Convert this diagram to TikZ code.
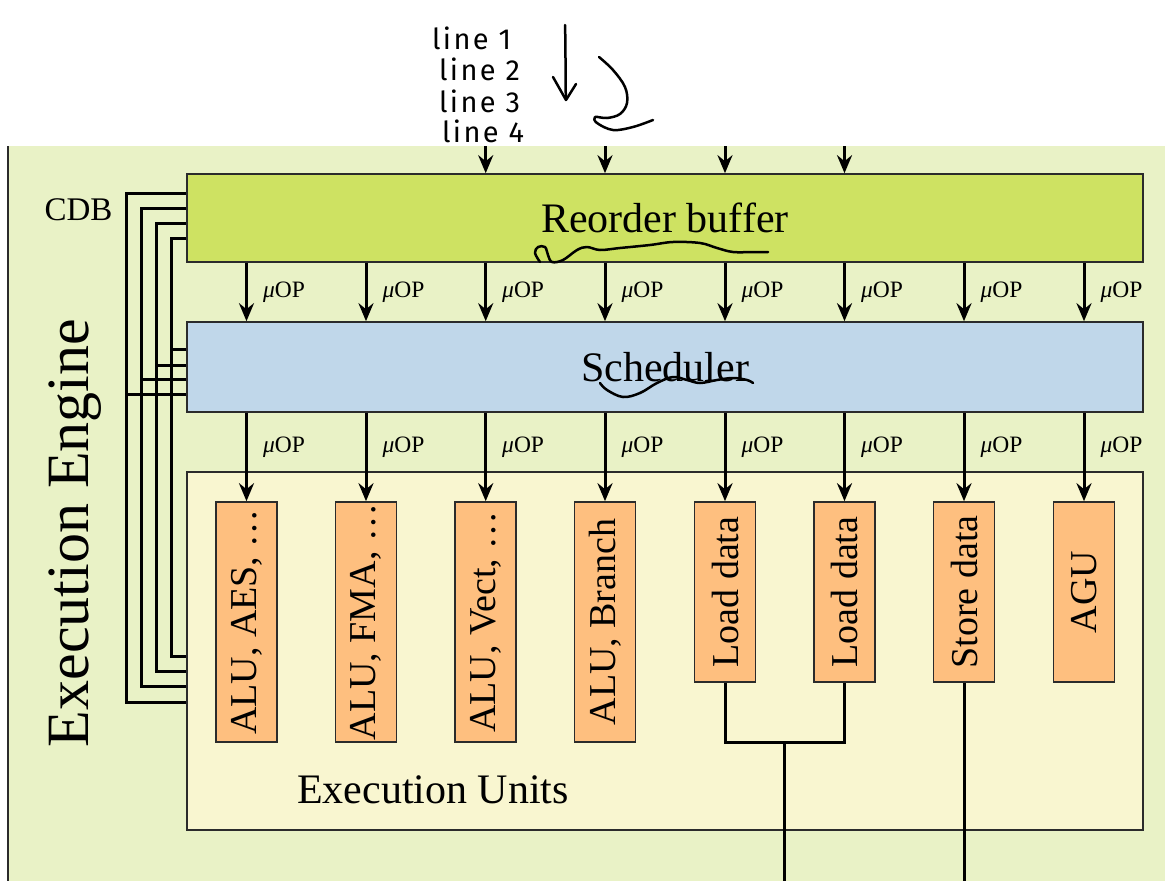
\documentclass[tikz,border=0pt]{standalone}
\usepackage{fontspec}
\usepackage{graphicx}
\setmainfont{Liberation Serif}
\newfontfamily\handfont[LetterSpace=8]{Fira Sans}
\usetikzlibrary{arrows.meta,calc}

\definecolor{enginebg}{HTML}{E9F2C6}
\definecolor{robfill}{HTML}{CEE262}
\definecolor{schedfill}{HTML}{C0D7EA}
\definecolor{eufill}{HTML}{F9F6D0}
\definecolor{unitfill}{HTML}{FEBF7F}
\definecolor{edge}{HTML}{2B2B2B}

\begin{document}
\begin{tikzpicture}[x=1pt,y=-1pt,
  blk/.style={draw=edge, line width=1.6pt, inner sep=0pt, rectangle},
  bigtext/.style={font=\fontsize{42}{42}\selectfont},
  unitbox/.style={blk, fill=unitfill, minimum width=61pt,
    font=\fontsize{38}{38}\selectfont},
  arr/.style={line width=3pt, -{Stealth[length=18pt,width=15pt,inset=6pt]}},
  wire/.style={line width=3pt},
  bus/.style={line width=2.8pt, line join=miter},
  uop/.style={font=\fontsize{23.5}{23.5}\selectfont, anchor=west, inner sep=0pt, xshift=15pt},
  hand/.style={line width=2.5pt, line cap=round, line join=round},
  handtext/.style={font=\handfont\fontsize{29}{29}\selectfont, anchor=base west, inner sep=0pt}
]
\useasboundingbox (0,0) rectangle (1165,881);

% engine background, open at the top and right
\fill[enginebg] (8,146) rectangle (1165,881);
\draw[edge, line width=1.6pt] (8,146) -- (8,881);

% main blocks
\node[blk, bigtext, fill=robfill, minimum width=956pt, minimum height=88pt] (rob) at (665,218) {Reorder buffer};
\node[blk, bigtext, fill=schedfill, minimum width=956pt, minimum height=90pt] (sched) at (665,367) {Scheduler};
\node[blk, fill=eufill, minimum width=956pt, minimum height=358pt] (eu) at (665,651) {};
\node[bigtext, inner sep=0pt] (eulbl) at (433,790) {Execution Units};

% execution units
\node[unitbox, minimum height=240pt] (u1) at (246.5,622) {\rotatebox{90}{ALU, AES, \ldots}};
\node[unitbox, minimum height=240pt] (u2) at (366,622) {\rotatebox{90}{ALU, FMA, \ldots}};
\node[unitbox, minimum height=240pt] (u3) at (485.7,622) {\rotatebox{90}{ALU, Vect, \ldots}};
\node[unitbox, minimum height=240pt] (u4) at (605,622) {\rotatebox{90}{ALU, Branch}};
\node[unitbox, minimum height=180pt] (u5) at (725,592) {\rotatebox{90}{Load data}};
\node[unitbox, minimum height=180pt] (u6) at (844.5,592) {\rotatebox{90}{Load data}};
\node[unitbox, minimum height=180pt] (u7) at (964,592) {\rotatebox{90}{Store data}};
\node[unitbox, minimum height=180pt] (u8) at (1084,592) {\rotatebox{90}{AGU}};

% side labels
\node[font=\fontsize{60}{60}\selectfont, rotate=90, inner sep=0pt] (engine) at (75,533) {Execution Engine};
\node[font=\fontsize{33}{33}\selectfont, inner sep=0pt] (cdb) at (78.5,210) {CDB};

% incoming instructions
\coordinate (top) at (0,146);
\foreach \u in {u3,u4,u5,u6}
  \draw[arr] (\u |- top) -- (\u |- rob.north);

% reorder buffer -> scheduler
\foreach \u in {u1,u2,u3,u4,u5,u6,u7,u8}
  \draw[arr] (\u |- rob.south) -- (\u |- sched.north)
    node[uop, midway] {{\itshape μ}OP};

% scheduler -> execution units
\foreach \u in {u1,u2,u3,u4,u5,u6,u7,u8}
  \draw[arr] (\u |- sched.south) -- (\u.north)
    node[uop, pos=0.39] {{\itshape μ}OP};

% results leaving the units
\coordinate (bottom) at (0,881);
\coordinate (ldjoin) at ($(u5.south)!0.5!(u6.south)+(0,60)$);
\draw[wire] (u5.south) |- (ldjoin) -| (u6.south);
\draw[wire] (ldjoin) -- (ldjoin |- bottom);
\draw[wire] (u7.south) -- (u7.south |- bottom);

% common data bus: four lines feeding back to the blocks
\draw[bus] ([yshift=-20pt]rob.north west) -- ++(-60,0) |- ([yshift=-231pt]eu.north west);
\draw[bus] ([yshift=-35pt]rob.north west) -- ++(-45,0) |- ([yshift=-215pt]eu.north west);
\draw[bus] ([yshift=-50pt]rob.north west) -- ++(-30,0) |- ([yshift=-200pt]eu.north west);
\draw[bus] ([yshift=-65pt]rob.north west) -- ++(-15,0) |- ([yshift=-185pt]eu.north west);
\draw[bus] ([yshift=-73pt]sched.north west) -- ++(-60,0);
\draw[bus] ([yshift=-58pt]sched.north west) -- ++(-45,0);
\draw[bus] ([yshift=-44pt]sched.north west) -- ++(-30,0);
\draw[bus] ([yshift=-28pt]sched.north west) -- ++(-15,0);

% handwritten notes
\node[handtext] (l1) at (432,49) {line 1};
\node[handtext] (l2) at (439,80) {line 2};
\node[handtext] (l3) at (439,112) {line 3};
\node[handtext] (l4) at (442,142) {line 4};
\draw[hand] (565,25) .. controls (566,55) and (565,80) .. (566,99);
\draw[hand] (553,77) -- (566,100) -- (576,84);
\draw[hand] plot[smooth, tension=0.6] coordinates {(599,57) (613,70) (625,87) (627,103) (620,114) (607,118) (595,117) (597,123) (613,130) (633,127) (653,120)};
\draw[hand] plot[smooth, tension=0.6] coordinates {(540,262) (535,253) (538,247) (545,247) (548,255) (552,262) (563,260) (577,250) (587,247) (600,250) (620,248) (650,245) (673,242) (700,243) (717,248) (733,252) (753,252) (768,252)};
\draw[hand] plot[smooth, tension=0.6] coordinates {(600,383) (607,390) (623,397) (640,393) (657,383) (673,377) (687,380) (700,383) (717,380) (733,378) (747,380) (753,383)};
\end{tikzpicture}
\end{document}
